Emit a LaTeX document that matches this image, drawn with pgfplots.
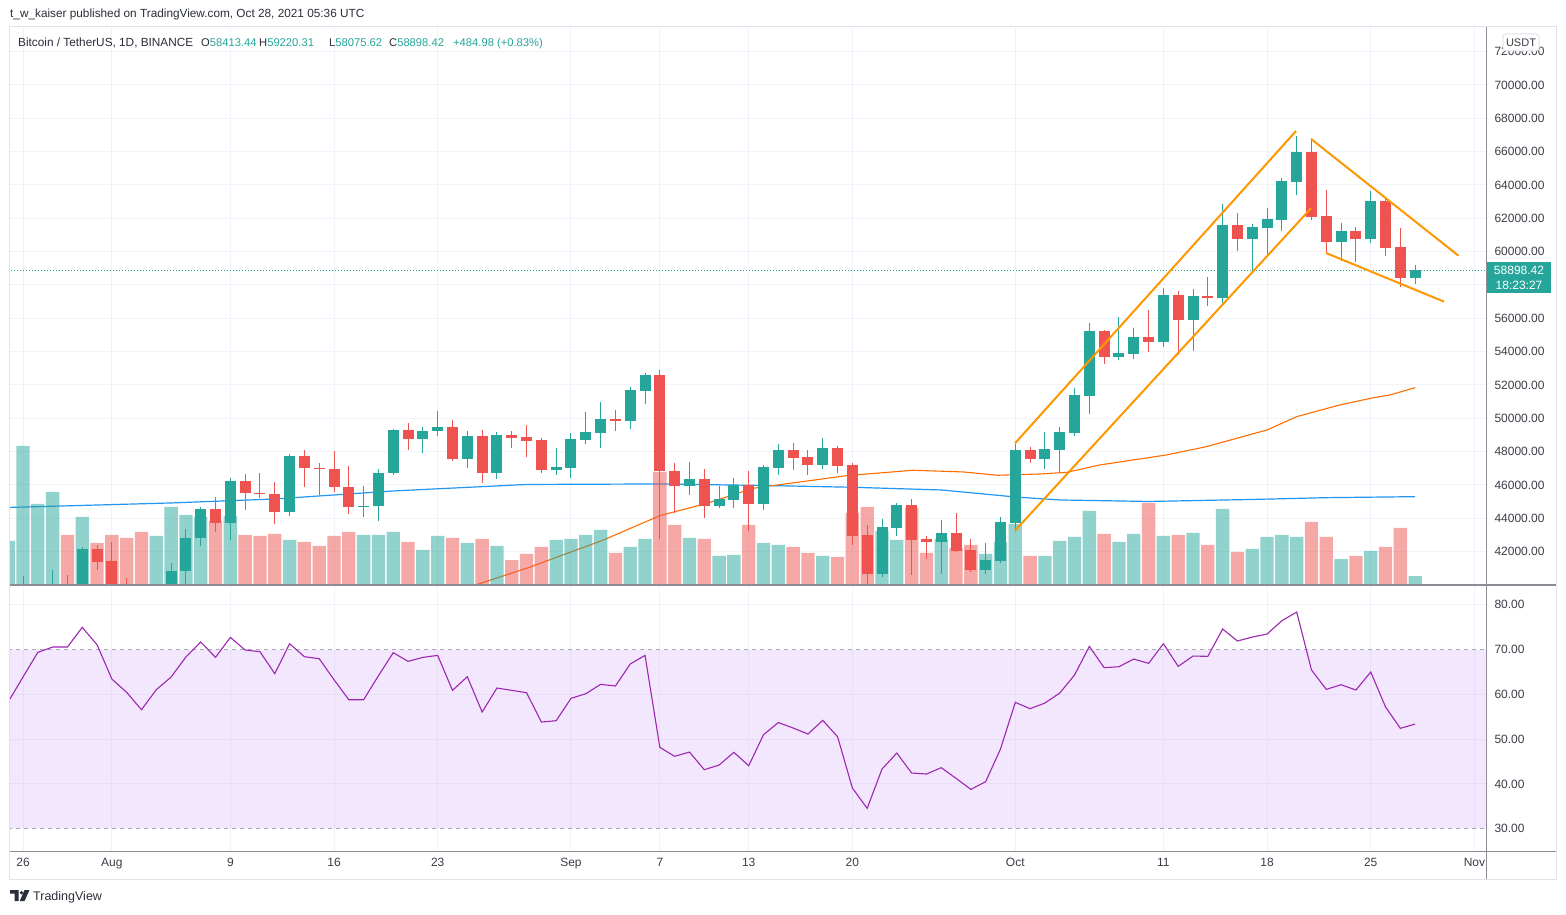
\documentclass[border=0pt]{standalone}
\usepackage{fontspec}
\setmainfont{Liberation Sans}
\usepackage{pgfplots}
\pgfplotsset{compat=1.18}
\usepackage{pgfplotstable}

\definecolor{upc}{HTML}{26A69A}
\definecolor{dnc}{HTML}{EF5350}
\definecolor{gridc}{HTML}{F0F3FA}
\definecolor{txt}{HTML}{2A2E39}
\definecolor{lbl}{HTML}{3B3E47}
\definecolor{sepc}{HTML}{8A8D96}
\definecolor{bordc}{HTML}{E0E3EB}
\definecolor{maone}{HTML}{FF6D00}
\definecolor{matwo}{HTML}{2196F3}
\definecolor{drw}{HTML}{FF9800}
\definecolor{rsic}{HTML}{9C27B0}
\definecolor{bandc}{HTML}{A040F0}
\definecolor{bandline}{HTML}{A8ABB4}

\pgfplotstableread{
d o h l c v
-1 34270 35400 33850 35350 44
0 35350 40550 35200 37260 139
1 37260 39540 36400 39450 81
2 39460 40880 38780 40050 93
4 40000 42300 38300 42180 68
9 38200 39970 37510 39720 49
10 39740 41340 37330 40860 78
11 40860 43380 39850 42840 70
12 42840 44700 42360 44560 68
14 43740 46430 42720 46250 69
18 44400 47870 44160 47750 45
23 44680 45950 44100 44760 50
24 44720 46970 43860 46730 50
25 46730 49380 46580 49310 53
27 48750 49490 47930 49230 35
28 49230 50440 48950 49470 49
30 47570 49250 47030 48950 42
32 46730 49150 46370 49010 39
36 46910 48230 46610 47090 45
37 47030 49130 46430 48770 46
38 48710 50380 48470 49190 50
39 49130 50980 48230 49970 55
41 49850 51880 49370 51700 38
42 51640 52720 50860 52600 46
45 45950 47390 45410 46370 47
47 44750 45950 44630 45170 29
48 45110 46430 44630 46010 30
50 44870 47210 44510 47090 42
51 47030 48470 46610 48110 40
54 47210 48830 46970 48230 29
58 40680 43980 40500 43500 54
59 43440 44930 42960 44810 45
62 42600 43920 40680 43140 46
65 40920 42540 40680 41520 31
66 41460 44100 41340 43800 43
67 43740 48470 43200 48110 61
69 47570 49190 46970 48170 29
70 48110 49490 46790 49190 44
71 49130 51820 48950 51400 48
72 51340 55710 50260 55230 74
74 53680 56070 53500 53920 43
75 53860 55410 53560 54870 51
77 54570 57810 54280 57390 49
79 55890 57750 54040 57330 52
81 57210 62840 56730 61580 76
83 60740 61640 58830 61460 36
84 61400 62600 59720 61940 48
85 61880 64400 61220 64220 50
86 64160 66910 63380 65950 48
89 60560 61700 59420 61220 26
91 60740 63620 60500 63020 34
94 58413 59220 58076 58898 9
}\uptab

\pgfplotstableread{
d o h l c v
3 40050 40620 38780 40000 50
5 42180 42420 40920 41400 42
6 41460 42600 39420 39850 50
7 39850 40440 38690 39150 47
8 39150 39780 37640 38200 53
13 44560 45290 43200 43740 64
15 46250 46670 44510 45540 50
16 45540 46730 45230 45450 49
17 45450 46190 43680 44400 51
19 47750 48110 45890 47000 43
20 47040 47330 45410 46980 39
21 46980 48050 45590 45880 49
22 45880 47150 44280 44680 53
26 49310 49720 48110 48750 43
29 49470 49870 47450 47570 47
31 48950 49310 46130 46730 46
33 49010 49250 48230 48830 25
34 48890 49610 47690 48650 31
35 48700 48830 46730 46910 38
40 49970 50500 49250 49850 32
43 52600 52900 42780 46810 113
44 46850 47330 44340 45950 60
46 46370 46970 44040 44750 46
49 46010 46850 43260 44870 60
52 48110 48530 46910 47630 38
53 47690 48110 46610 47210 32
55 48230 48350 46730 47150 28
56 47210 47330 42420 42960 72
57 43020 43620 39600 40680 78
60 44810 45170 40620 42720 77
61 42780 42960 41580 42600 32
63 43140 44340 42000 42060 37
64 42120 42780 40800 40920 40
68 48110 48290 47330 47570 29
73 55230 55290 53260 53680 51
76 54870 56490 53980 54570 82
78 57390 57630 53800 55890 50
80 57330 58470 56730 57210 40
82 61580 62300 60020 60740 33
87 65950 66670 61880 62060 63
88 62120 63680 59900 60560 48
90 61220 61460 59360 60740 29
92 63020 63140 59720 60200 38
93 60260 61400 57870 58413 57
}\dntab

\pgfplotstableread{
d r
-1 58.3
0 63.85
1 69.36
2 70.55
3 70.55
4 74.94
5 71.07
6 63.41
7 60.43
8 56.56
9 61.03
10 63.85
11 68.32
12 71.67
13 68.24
14 72.71
15 69.88
16 69.51
17 64.60
18 71.29
19 68.39
20 67.95
21 63.26
22 58.79
23 58.79
24 64.15
25 69.29
26 67.35
27 68.24
28 68.69
29 60.88
30 63.93
31 56.04
32 61.40
33 60.88
34 60.36
35 53.81
36 54.11
37 59.09
38 60.13
39 62.22
40 61.85
41 66.76
42 68.69
43 48.15
44 46.15
45 47.11
46 43.17
47 44.21
48 47.04
49 44.06
50 50.98
51 53.70
52 52.47
53 51.13
54 54.18
55 50.54
56 39.08
57 34.54
58 43.32
59 46.89
60 42.43
61 42.20
62 43.62
63 41.24
64 38.78
65 40.49
66 47.78
67 58.20
68 56.79
69 58.05
70 60.28
71 64.30
72 70.70
73 65.94
74 66.16
75 67.87
76 66.90
77 71.29
78 66.24
79 68.54
80 68.47
81 74.57
82 71.89
83 72.78
84 73.45
85 76.43
86 78.36
87 65.42
88 61.10
89 62.14
90 60.95
91 64.97
92 57.16
93 52.40
94 53.36
}\rsitab

\pgfplotsset{
  pane/.style={
    scale only axis, width=1476pt,
    xmin=-0.878, xmax=98.78,
    axis line style={draw=none},
    major tick length=0pt,
    scaled y ticks=false, scaled x ticks=false,
    xtick={0,6,14,21,28,37,43,49,56,67,77,84,91,98},
    xticklabels={},
  },
  lblfont/.style={font=\fontsize{12}{14}\selectfont, text=lbl},
  candle/.style n args={2}{draw=none, no markers, forget plot,
    error bars/.cd, y dir=plus, y explicit, error mark=none,
    error bar style={draw=#1, line width=#2}},
}

\begin{document}
\begin{tikzpicture}
\useasboundingbox (0pt,0pt) rectangle (1566pt,914pt);
\fill[white] (0pt,0pt) rectangle (1566pt,914pt);

% ---------- price pane: grid, MAs, last price line
\begin{axis}[pane, at={(10pt,329pt)}, anchor=south west, height=558pt,
  ymin=40000, ymax=73480,
  ytick={42000,44000,46000,48000,50000,52000,54000,56000,58000,60000,62000,64000,66000,68000,70000,72000},
  yticklabels={42000.00,44000.00,46000.00,48000.00,50000.00,52000.00,54000.00,56000.00,58000.00,60000.00,62000.00,64000.00,66000.00,68000.00,70000.00,72000.00},
  yticklabel pos=right,
  yticklabel style={lblfont, anchor=west, xshift=5pt},
  grid=major, major grid style={draw=gridc, line width=1pt},
]
\addplot[matwo, line width=1.2pt] coordinates {
(-1,44652) (10,44922) (17,45162) (25,45642) (34,46032) (43,46062) (50,45972)
(56,45864) (62,45702) (67,45282) (70,45102) (76,45012) (83,45132) (88,45240) (94,45300)};
\addplot[maone, line width=1.1pt] coordinates {
(29.6,39690) (30.65,40030) (34.2,41064) (39.2,42702) (43,44160) (46.2,44904)
(49.3,45804) (51.8,46104) (55.6,46560) (60.1,46884) (63.5,46782) (65.8,46584)
(68.7,46662) (70.5,46764) (72.7,47202) (77.2,47802) (79.9,48300) (82.2,48864)
(84,49302) (86,50100) (88.9,50802) (91.2,51240) (92.3,51402) (94,51840)};
\addplot[upc, line width=1pt, dash pattern=on 1pt off 2pt] coordinates {(-1,58898.42) (99,58898.42)};
\end{axis}

% ---------- volume
\begin{axis}[pane, at={(10pt,329pt)}, anchor=south west, height=558pt,
  ymin=0, ymax=558, hide axis]
\addplot[ybar, bar width=0.9, bar shift=0pt, draw=none, fill=upc, fill opacity=0.5] table[x=d, y=v] {\uptab};
\addplot[ybar, bar width=0.9, bar shift=0pt, draw=none, fill=dnc, fill opacity=0.5] table[x=d, y=v] {\dntab};
\end{axis}

% ---------- candles and drawings
\begin{axis}[pane, at={(10pt,329pt)}, anchor=south west, height=558pt,
  ymin=40000, ymax=73480, hide axis]
\addplot[candle={upc}{1pt}]
  table[x=d, y=l, y error expr={\thisrow{h}-\thisrow{l}}] {\uptab};
\addplot[candle={dnc}{1pt}]
  table[x=d, y=l, y error expr={\thisrow{h}-\thisrow{l}}] {\dntab};
\addplot[candle={upc}{11pt}]
  table[x=d, y=o, y error expr={\thisrow{c}-\thisrow{o}}] {\uptab};
\addplot[candle={dnc}{11pt}]
  table[x=d, y=c, y error expr={\thisrow{o}-\thisrow{c}}] {\dntab};
\addplot[drw, line width=2pt] coordinates {(66.98,48504) (85.96,67242)};
\addplot[drw, line width=2pt] coordinates {(66.98,43260) (86.97,62604)};
\addplot[drw, line width=2pt] coordinates {(86.97,66762) (96.92,59760)};
\addplot[drw, line width=2pt] coordinates {(87.98,59922) (95.95,57000)};
\end{axis}

% ---------- RSI pane
\begin{axis}[pane, at={(10pt,63pt)}, anchor=south west, height=266pt,
  ymin=25.02, ymax=84.40,
  ytick={40,50,60,80},
  yticklabels={40.00,50.00,60.00,80.00},
  extra y ticks={30,70}, extra y tick labels={30.00,70.00},
  extra y tick style={grid=none},
  yticklabel pos=right,
  yticklabel style={lblfont, anchor=west, xshift=5pt},
  xticklabels={26,Aug,9,16,23,Sep,7,13,20,Oct,11,18,25,Nov},
  xticklabel style={lblfont, anchor=north, yshift=-4pt},
  grid=major, major grid style={draw=gridc, line width=1pt},
]
\addplot[draw=none, fill=bandc, fill opacity=0.12] coordinates {(-1,30) (99,30) (99,70) (-1,70) (-1,30)};
\addplot[bandline, line width=1pt, dash pattern=on 4pt off 4pt] coordinates {(-1,70) (99,70)};
\addplot[bandline, line width=1pt, dash pattern=on 4pt off 4pt] coordinates {(-1,30) (99,30)};
\addplot[rsic, line width=1.1pt] table[x=d, y=r] {\rsitab};
\end{axis}

\begin{scope}[x=1pt,y=1pt]
% ---------- frame and separators
\draw[bordc, line width=1pt] (9.5,35) rectangle (1556,887);
\draw[sepc, line width=1.5pt] (10,329) -- (1556,329);
\draw[sepc, line width=1pt] (10,62.5) -- (1556,62.5);
\draw[sepc, line width=1pt] (1486,35) -- (1486,887);

% ---------- header and legend
\node[anchor=base west, inner sep=0pt, text=txt, font=\fontsize{11.8}{14}\selectfont] at (10,896) {t\_w\_kaiser published on TradingView.com, Oct 28, 2021 05:36 UTC};
\node[anchor=base west, inner sep=0pt, text=txt, font=\fontsize{11.8}{14}\selectfont] at (18,867) {Bitcoin / TetherUS, 1D, BINANCE};
\begin{scope}[every node/.style={anchor=base west, inner sep=0pt, font=\fontsize{11.2}{13}\selectfont}]
\node at (201,867) {\textcolor{txt}{O}\textcolor{upc}{58413.44}};
\node at (259,867) {\textcolor{txt}{H}\textcolor{upc}{59220.31}};
\node at (329,867) {\textcolor{txt}{L}\textcolor{upc}{58075.62}};
\node at (389,867) {\textcolor{txt}{C}\textcolor{upc}{58898.42}};
\node[text=upc] at (453,867) {+484.98 (+0.83\%)};
\end{scope}

% ---------- USDT box and last price label
\draw[fill=white, draw=bordc, line width=1pt, rounded corners=3pt] (1503,863) rectangle (1539,880);
\node[text=lbl, font=\fontsize{11}{13}\selectfont] at (1521,871.5) {USDT};
\fill[upc] (1487,621) rectangle (1551,652);
\node[text=white, font=\fontsize{12}{14}\selectfont] at (1519,644) {58898.42};
\node[text=white, font=\fontsize{12}{14}\selectfont] at (1519,629) {18:23:27};

% ---------- footer
\fill[txt] (10,24) -- (18.5,24) -- (18.5,13) -- (14.5,13) -- (14.5,20.5) -- (10,20.5) -- cycle;
\fill[txt] (21.5,21.3) circle (1.9);
\fill[txt] (24.5,24) -- (29.5,24) -- (24.5,13) -- (19.8,13) -- cycle;
\node[anchor=base west, inner sep=0pt, text=txt, font=\fontsize{12.5}{15}\selectfont] at (33,14) {TradingView};
\end{scope}
\end{tikzpicture}
\end{document}
